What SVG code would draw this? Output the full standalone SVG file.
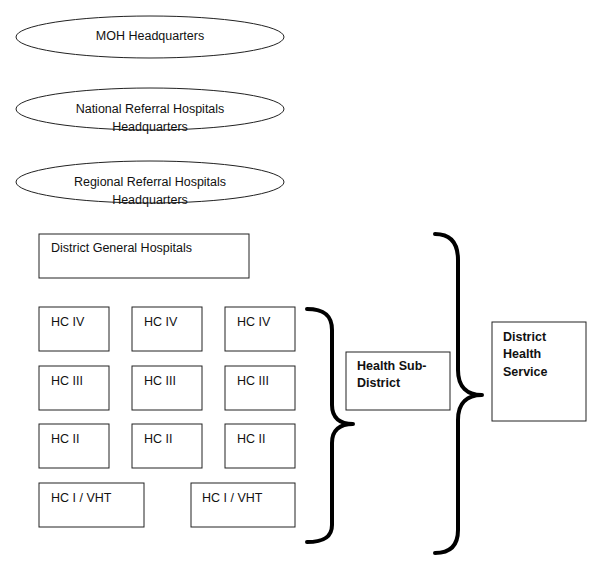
<svg xmlns="http://www.w3.org/2000/svg" width="600" height="580" viewBox="0 0 600 580">
<style>
.n{fill:#fff;stroke:#222;stroke-width:1}
.t{font-family:"Liberation Sans",Arial,sans-serif;font-size:12.5px;fill:#111}
.b{font-weight:bold}
.c{text-anchor:middle}
.br{fill:none;stroke:#000;stroke-width:4;stroke-linecap:round;stroke-linejoin:round}
</style>
<rect width="600" height="580" fill="#fff"/>
<g id="moh"><ellipse class="n" cx="150" cy="37" rx="134" ry="21"/><text class="t c" x="150" y="40">MOH Headquarters</text></g>
<g id="nrh"><ellipse class="n" cx="150" cy="109" rx="134" ry="21"/><text class="t c" x="150" y="113">National Referral Hospitals</text><text class="t c" x="150" y="131">Headquarters</text></g>
<g id="rrh"><ellipse class="n" cx="150" cy="182" rx="134" ry="21"/><text class="t c" x="150" y="186">Regional Referral Hospitals</text><text class="t c" x="150" y="204">Headquarters</text></g>
<g id="dgh"><rect class="n" x="39" y="234" width="210" height="44"/><text class="t" x="51" y="252">District General Hospitals</text></g>
<g id="hc4a"><rect class="n" x="39" y="307" width="70" height="44"/><text class="t" x="51" y="326">HC IV</text></g>
<g id="hc4b"><rect class="n" x="132" y="307" width="70" height="44"/><text class="t" x="144" y="326">HC IV</text></g>
<g id="hc4c"><rect class="n" x="225" y="307" width="70" height="44"/><text class="t" x="237" y="326">HC IV</text></g>
<g id="hc3a"><rect class="n" x="39" y="366" width="70" height="44"/><text class="t" x="51" y="385">HC III</text></g>
<g id="hc3b"><rect class="n" x="132" y="366" width="70" height="44"/><text class="t" x="144" y="385">HC III</text></g>
<g id="hc3c"><rect class="n" x="225" y="366" width="70" height="44"/><text class="t" x="237" y="385">HC III</text></g>
<g id="hc2a"><rect class="n" x="39" y="424" width="70" height="44"/><text class="t" x="51" y="443">HC II</text></g>
<g id="hc2b"><rect class="n" x="132" y="424" width="70" height="44"/><text class="t" x="144" y="443">HC II</text></g>
<g id="hc2c"><rect class="n" x="225" y="424" width="70" height="44"/><text class="t" x="237" y="443">HC II</text></g>
<g id="hc1a"><rect class="n" x="39" y="483" width="105" height="44"/><text class="t" x="51" y="502">HC I / VHT</text></g>
<g id="hc1b"><rect class="n" x="191" y="483" width="104" height="44"/><text class="t" x="202" y="502">HC I / VHT</text></g>
<g id="hsd"><rect class="n" x="346" y="352" width="104" height="58"/><text class="t b" x="357" y="370">Health Sub-</text><text class="t b" x="357" y="387">District</text></g>
<g id="dhs"><rect class="n" x="492" y="322" width="94" height="99"/><text class="t b" x="503" y="341">District</text><text class="t b" x="503" y="358">Health</text><text class="t b" x="503" y="376">Service</text></g>
<g id="connectors">
<path class="br" d="M307,309 C322,309 332,314 332,330 L332,405 C332,418 340,424 353,424 C340,424 332,430 332,443 L332,525 C332,538 322,542 307,542"/>
<path class="br" d="M435,234 C450,234 458,242 458,260 L458,370 C458,388 468,395 482,395 C468,395 458,402 458,420 L458,530 C458,546 450,553 435,553"/>
</g>
</svg>
